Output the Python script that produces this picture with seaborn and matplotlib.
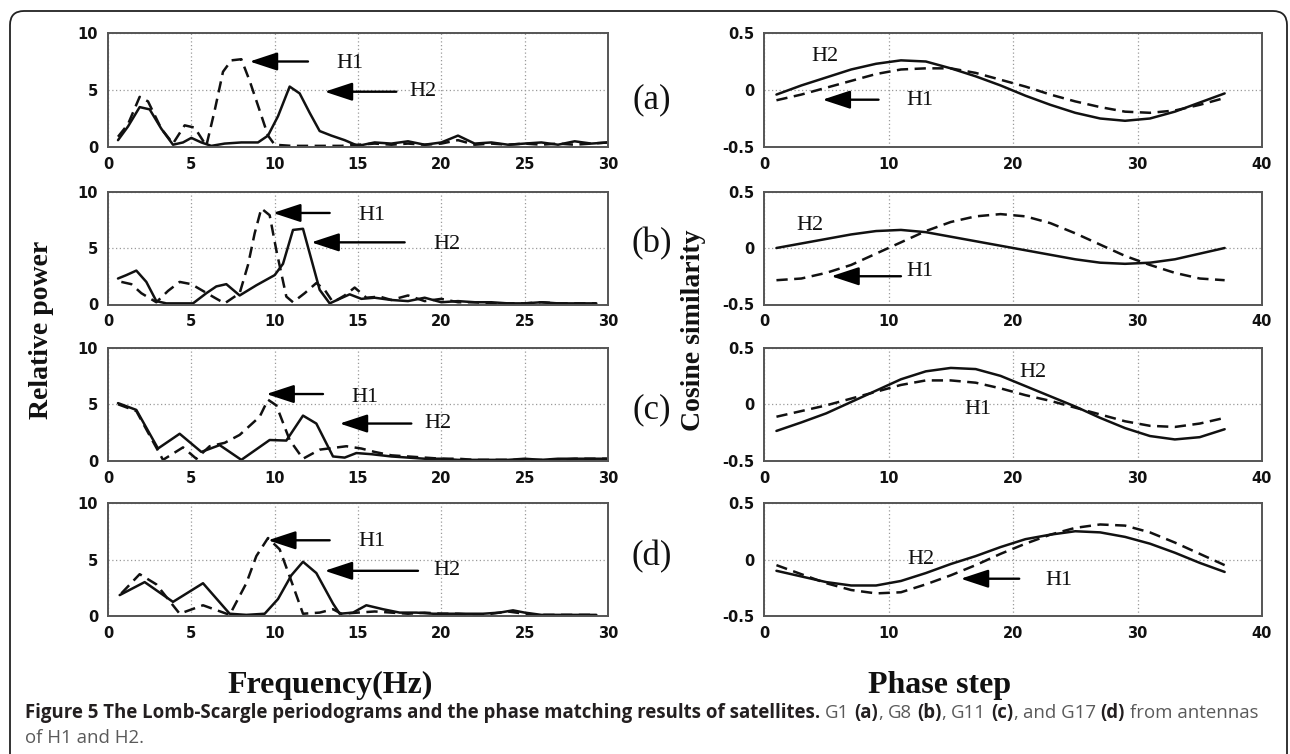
import matplotlib
matplotlib.use("Agg")
import matplotlib.pyplot as plt
import seaborn as sns
from matplotlib.patches import FancyBboxPatch
from matplotlib.transforms import IdentityTransform

sns.set_style("white")
plt.rcParams["font.family"] = ["DejaVu Sans"]

# ---------------- Lomb-Scargle periodograms (left column) ----------------
freq_a_h2 = [0.6, 1.2, 1.9, 2.5, 3.2, 3.9, 4.5, 5.0, 5.6, 6.2, 7.0, 8.0, 9.0, 9.6, 10.2, 10.9, 11.5, 12.1,
             12.7, 13.4, 14.2, 15.0, 16.0, 17.0, 18.0, 19.0, 20.0, 21.0, 22.0, 23.0, 24.0, 25.0, 26.0,
             27.0, 28.0, 29.0, 30.0]
power_a_h2 = [0.6, 1.8, 3.5, 3.3, 1.6, 0.2, 0.4, 0.8, 0.4, 0.1, 0.3, 0.4, 0.4, 1.0, 2.7, 5.3, 4.7, 3.0,
              1.4, 1.0, 0.6, 0.1, 0.4, 0.3, 0.5, 0.2, 0.4, 1.0, 0.3, 0.4, 0.2, 0.3, 0.4, 0.2, 0.5, 0.3, 0.4]
freq_a_h1 = [0.6, 1.2, 1.9, 2.4, 3.2, 3.9, 4.6, 5.2, 5.9, 6.4, 6.9, 7.4, 8.0, 8.5, 9.1, 9.6, 10.0, 11.0,
             12.0, 13.0, 14.0, 15.0, 16.0, 17.0, 18.0, 19.0, 20.0, 21.0, 22.0, 23.0, 24.0, 25.0, 26.0,
             27.0, 28.0, 29.0, 30.0]
power_a_h1 = [0.9, 2.0, 4.4, 4.0, 1.6, 0.3, 1.9, 1.7, 0.1, 3.2, 6.6, 7.6, 7.7, 5.8, 3.2, 1.0, 0.2, 0.1,
              0.1, 0.1, 0.1, 0.2, 0.3, 0.2, 0.3, 0.2, 0.3, 0.6, 0.2, 0.3, 0.2, 0.3, 0.2, 0.3, 0.2, 0.3, 0.4]

freq_b_h2 = [0.6, 1.1, 1.7, 2.3, 2.9, 3.5, 4.2, 5.1, 5.9, 6.5, 7.1, 7.9, 8.9, 10.0, 10.5, 11.1, 11.7,
             12.2, 12.7, 13.3, 13.9, 14.5, 15.2, 16.0, 17.0, 18.0, 19.0, 20.0, 21.0, 22.0, 23.0, 24.0,
             25.0, 26.0, 27.0, 28.0, 29.3]
power_b_h2 = [2.3, 2.6, 3.0, 2.0, 0.3, 0.1, 0.1, 0.1, 1.0, 1.6, 1.8, 0.8, 1.7, 2.6, 3.6, 6.6, 6.7, 4.0,
              1.3, 0.1, 0.5, 0.9, 0.5, 0.6, 0.4, 0.3, 0.6, 0.2, 0.3, 0.2, 0.2, 0.1, 0.1, 0.2, 0.1, 0.1, 0.1]
freq_b_h1 = [0.8, 1.4, 2.0, 2.9, 3.6, 4.3, 5.0, 5.7, 6.4, 7.0, 7.9, 8.4, 8.8, 9.2, 9.7, 10.1, 10.7,
             11.1, 11.8, 12.5, 13.0, 13.5, 14.2, 14.8, 15.5, 16.3, 17.0, 18.0, 19.0, 20.0, 21.0, 22.0,
             23.0, 24.0, 25.0, 26.0, 27.0, 28.0, 29.3]
power_b_h1 = [2.0, 1.8, 1.0, 0.2, 1.2, 2.0, 1.8, 1.2, 0.6, 0.1, 1.0, 3.5, 6.3, 8.5, 7.9, 4.8, 0.7, 0.2,
              1.0, 1.9, 1.3, 0.2, 0.8, 1.5, 0.6, 0.7, 0.4, 0.8, 0.3, 0.5, 0.2, 0.2, 0.1, 0.1, 0.1, 0.2,
              0.1, 0.1, 0.1]

freq_c_h2 = [0.6, 1.7, 3.0, 4.3, 5.6, 6.7, 8.0, 9.7, 10.7, 11.7, 12.5, 13.5, 14.2, 14.9, 15.8, 17.0,
             18.0, 19.0, 20.0, 21.0, 22.0, 23.0, 24.0, 25.0, 26.0, 27.0, 28.0, 29.0, 30.0]
power_c_h2 = [5.1, 4.5, 1.1, 2.4, 0.8, 1.4, 0.1, 1.85, 1.8, 4.0, 3.3, 0.4, 0.3, 0.7, 0.6, 0.4, 0.3,
              0.2, 0.2, 0.1, 0.1, 0.1, 0.1, 0.2, 0.1, 0.2, 0.2, 0.2, 0.2]
freq_c_h1 = [0.6, 1.7, 3.3, 4.5, 5.3, 6.1, 7.0, 7.9, 9.1, 9.6, 10.1, 10.9, 11.7, 12.7, 14.3, 15.2,
             16.0, 17.0, 18.0, 19.0, 20.0, 21.0, 22.0, 23.0, 24.0, 25.0, 26.0, 27.0, 28.0, 29.0, 30.0]
power_c_h1 = [5.0, 4.4, 0.1, 1.2, 0.2, 1.3, 1.6, 2.3, 3.9, 5.4, 4.9, 1.85, 0.2, 1.0, 1.3, 1.1, 0.8,
              0.5, 0.4, 0.3, 0.2, 0.2, 0.1, 0.1, 0.1, 0.1, 0.1, 0.1, 0.2, 0.2, 0.2]

freq_d_h2 = [0.7, 2.2, 3.9, 5.7, 7.3, 8.3, 9.4, 10.2, 11.0, 11.7, 12.5, 13.5, 13.9, 14.7, 15.5, 16.5,
             17.5, 18.5, 19.5, 20.5, 21.5, 22.5, 23.5, 24.3, 25.0, 26.0, 27.0, 28.0, 29.3]
power_d_h2 = [1.85, 3.0, 1.25, 2.9, 0.2, 0.1, 0.2, 1.5, 3.6, 4.8, 3.8, 1.1, 0.2, 0.3, 0.95, 0.6, 0.3,
              0.3, 0.2, 0.2, 0.2, 0.2, 0.3, 0.5, 0.3, 0.1, 0.1, 0.1, 0.1]
freq_d_h1 = [0.8, 1.9, 2.9, 4.3, 5.7, 7.3, 8.3, 8.9, 9.6, 10.3, 10.9, 11.7, 12.7, 13.5, 14.0, 15.0,
             16.0, 17.0, 18.0, 19.0, 20.0, 21.0, 22.0, 23.0, 24.0, 25.0, 26.0, 27.0, 28.0, 29.3]
power_d_h1 = [2.0, 3.7, 2.8, 0.2, 0.95, 0.1, 2.9, 5.3, 6.9, 5.9, 3.5, 0.2, 0.3, 0.6, 0.2, 0.3, 0.4,
              0.3, 0.2, 0.3, 0.2, 0.2, 0.1, 0.2, 0.4, 0.2, 0.1, 0.1, 0.1, 0.1]

# ---------------- Phase matching (right column) ----------------
phase_steps = [1, 3, 5, 7, 9, 11, 13, 15, 17, 19, 21, 23, 25, 27, 29, 31, 33, 35, 37]
cos_a_h2 = [-0.04, 0.04, 0.11, 0.18, 0.23, 0.26, 0.25, 0.19, 0.12, 0.04, -0.05, -0.13, -0.20, -0.25,
            -0.27, -0.25, -0.19, -0.11, -0.03]
cos_a_h1 = [-0.09, -0.04, 0.02, 0.08, 0.14, 0.18, 0.19, 0.19, 0.15, 0.09, 0.03, -0.04, -0.10, -0.15,
            -0.19, -0.20, -0.18, -0.13, -0.07]
cos_b_h2 = [0.00, 0.04, 0.08, 0.12, 0.15, 0.16, 0.14, 0.10, 0.06, 0.02, -0.02, -0.06, -0.10, -0.13,
            -0.14, -0.13, -0.10, -0.05, 0.00]
cos_b_h1 = [-0.285, -0.27, -0.22, -0.15, -0.05, 0.05, 0.15, 0.23, 0.28, 0.30, 0.28, 0.22, 0.13, 0.03,
            -0.07, -0.15, -0.22, -0.27, -0.285]
cos_c_h2 = [-0.235, -0.16, -0.08, 0.02, 0.12, 0.22, 0.29, 0.32, 0.31, 0.25, 0.16, 0.07, -0.02, -0.12,
            -0.21, -0.28, -0.31, -0.29, -0.22]
cos_c_h1 = [-0.11, -0.06, -0.01, 0.05, 0.11, 0.17, 0.21, 0.21, 0.19, 0.14, 0.08, 0.03, -0.03, -0.09,
            -0.15, -0.19, -0.20, -0.17, -0.12]
cos_d_h2 = [-0.10, -0.15, -0.20, -0.23, -0.23, -0.19, -0.12, -0.04, 0.03, 0.11, 0.18, 0.22, 0.25, 0.24,
            0.20, 0.14, 0.06, -0.03, -0.11]
cos_d_h1 = [-0.05, -0.13, -0.21, -0.27, -0.30, -0.29, -0.22, -0.14, -0.05, 0.05, 0.14, 0.22, 0.28, 0.31,
            0.30, 0.24, 0.15, 0.05, -0.05]

panel_tags = ["(a)", "(b)", "(c)", "(d)"]
freq_ticks = [0, 5, 10, 15, 20, 25, 30]
power_ticks = [0, 5, 10]
step_ticks = [0, 10, 20, 30, 40]
cos_ticks = [-0.5, 0, 0.5]
cos_tick_labels = ["-0.5", "0", "0.5"]

left_series = [
    ((freq_a_h2, power_a_h2), (freq_a_h1, power_a_h1)),
    ((freq_b_h2, power_b_h2), (freq_b_h1, power_b_h1)),
    ((freq_c_h2, power_c_h2), (freq_c_h1, power_c_h1)),
    ((freq_d_h2, power_d_h2), (freq_d_h1, power_d_h1)),
]
right_series = [(cos_a_h2, cos_a_h1), (cos_b_h2, cos_b_h1), (cos_c_h2, cos_c_h1), (cos_d_h2, cos_d_h1)]

# annotation layout: (arrow tip, arrow tail, label, label position)
left_notes = [
    [((8.5, 7.5), (12.0, 7.5), "H1", (13.7, 7.3)), ((13.0, 4.85), (17.3, 4.85), "H2", (18.1, 4.85))],
    [((9.9, 8.1), (13.3, 8.1), "H1", (15.0, 7.9)), ((12.2, 5.5), (17.8, 5.5), "H2", (19.5, 5.3))],
    [((9.5, 5.9), (12.9, 5.9), "H1", (14.6, 5.6)), ((13.9, 3.3), (18.2, 3.3), "H2", (19.0, 3.3))],
    [((9.6, 6.7), (13.3, 6.7), "H1", (15.0, 6.6)), ((13.0, 4.0), (18.6, 4.0), "H2", (19.5, 4.0))],
]
right_labels = [
    [("H2", (4.9, 0.29)), ("H1", (12.5, -0.09))],
    [("H2", (3.7, 0.20)), ("H1", (12.5, -0.21))],
    [("H2", (21.6, 0.28)), ("H1", (17.2, -0.05))],
    [("H2", (12.6, 0.0)), ("H1", (23.7, -0.19))],
]
right_arrows = [((4.7, -0.085), (9.2, -0.085)), ((5.4, -0.25), (11.0, -0.25)), None,
                ((15.8, -0.17), (20.5, -0.17))]

W, H = 1290, 754
fig = plt.figure(figsize=(W / 100, H / 100), dpi=100)
fig.patch.set_facecolor("white")


def rect(x0, y0, x1, y1):
    return [x0 / W, 1 - y1 / H, (x1 - x0) / W, (y1 - y0) / H]


rows_px = [(33, 147), (191.5, 304.5), (347.5, 461), (503, 616)]
LINE = "#111111"
DASH = (0, (4.5, 2.6))
serif = "Liberation Serif"
tick_font = dict(family="DejaVu Sans", weight="bold", size=10.5)


def style_axes(ax):
    for s in ax.spines.values():
        s.set_color("#555555")
        s.set_linewidth(1.4)
    ax.grid(True, color="#9a9a9a", linestyle=(0, (1, 2)), linewidth=0.9)
    ax.tick_params(direction="in", length=3, width=1, color="#555555", pad=7)
    for lab in ax.get_xticklabels() + ax.get_yticklabels():
        lab.set_fontfamily(tick_font["family"])
        lab.set_fontweight(tick_font["weight"])
        lab.set_fontsize(tick_font["size"])
        lab.set_color("#111111")


def arrow(ax, tip, tail):
    ax.annotate("", xy=tip, xytext=tail,
                arrowprops=dict(arrowstyle="-|>,head_length=0.85,head_width=0.28", color="black",
                                lw=1.7, shrinkA=0, shrinkB=0, mutation_scale=20))


for i, (top, bottom) in enumerate(rows_px):
    # periodogram
    axl = fig.add_axes(rect(108, top, 608, bottom))
    (fx2, p2), (fx1, p1) = left_series[i]
    sns.lineplot(x=fx2, y=p2, ax=axl, color=LINE, lw=1.8, estimator=None, sort=False)
    sns.lineplot(x=fx1, y=p1, ax=axl, color=LINE, lw=1.8, linestyle=DASH, estimator=None, sort=False)
    axl.set_xlim(0, 30)
    axl.set_ylim(0, 10)
    axl.set_xticks(freq_ticks)
    axl.set_yticks(power_ticks)
    axl.set_xticklabels([str(t) for t in freq_ticks])
    axl.set_yticklabels([str(t) for t in power_ticks])
    style_axes(axl)
    for tip, tail, lab, pos in left_notes[i]:
        arrow(axl, tip, tail)
        axl.text(pos[0], pos[1], lab, family=serif, fontsize=16, ha="left", va="center", color="#111111")

    # phase matching
    axr = fig.add_axes(rect(764, top, 1262, bottom))
    c2, c1 = right_series[i]
    sns.lineplot(x=phase_steps, y=c2, ax=axr, color=LINE, lw=1.8, estimator=None, sort=False)
    sns.lineplot(x=phase_steps, y=c1, ax=axr, color=LINE, lw=1.8, linestyle=DASH, estimator=None, sort=False)
    axr.set_xlim(0, 40)
    axr.set_ylim(-0.5, 0.5)
    axr.set_xticks(step_ticks)
    axr.set_yticks(cos_ticks)
    axr.set_xticklabels([str(t) for t in step_ticks])
    axr.set_yticklabels(cos_tick_labels)
    style_axes(axr)
    for lab, pos in right_labels[i]:
        axr.text(pos[0], pos[1], lab, family=serif, fontsize=16, ha="center", va="center", color="#111111")
    if right_arrows[i] is not None:
        arrow(axr, *right_arrows[i])

    for ax in (axl, axr):
        ax.set_xlabel("")
        ax.set_ylabel("")

    fig.text(652 / W, 1 - [100, 244, 410, 557][i] / H, panel_tags[i], family=serif, fontsize=25,
             ha="center", va="center", color="#111111")

# axis titles
fig.text(42 / W, 1 - 330 / H, "Relative power", family=serif, weight="bold", fontsize=20,
         rotation=90, ha="center", va="center", color="#111111")
fig.text(693 / W, 1 - 330 / H, "Cosine similarity", family=serif, weight="bold", fontsize=20,
         rotation=90, ha="center", va="center", color="#111111")
fig.text(330 / W, 1 - 685 / H, "Frequency(Hz)", family=serif, weight="bold", fontsize=23,
         ha="center", va="center", color="#111111")
fig.text(940 / W, 1 - 685 / H, "Phase step", family=serif, weight="bold", fontsize=23,
         ha="center", va="center", color="#111111")

# rounded frame around the figure
frame = FancyBboxPatch((10, -30), 1277, 773, boxstyle="round,pad=0,rounding_size=14",
                       transform=IdentityTransform(), facecolor="none", edgecolor="#222222", lw=1.3)
fig.patches.append(frame)

# caption set as a run of bold / regular pieces
renderer = fig.canvas.get_renderer()
CAP_FONT = "Open Sans"
CAP_SIZE = 13.4
BOLD_C = "#231f20"
REG_C = "#5a5a5a"


def text_width(s, weight):
    t = fig.text(0, 0, s, family=CAP_FONT, fontsize=CAP_SIZE, fontweight=weight)
    w = t.get_window_extent(renderer).width
    t.remove()
    return w


def advance(s, weight):
    # pen advance of a run, measured against a following reference glyph
    return text_width(s + "n", weight) - text_width("n", weight)


space_w = advance(" ", "normal")


def caption_line(pieces, x_px, base_px):
    x = x_px
    for txt, weight, gap in pieces:
        if gap:
            x += space_w
        color = BOLD_C if weight == "bold" else REG_C
        fig.text(x / W, 1 - base_px / H, txt, family=CAP_FONT, fontsize=CAP_SIZE,
                 fontweight=weight, color=color, ha="left", va="baseline")
        x += advance(txt, weight)


caption_line([
    ("Figure 5 The Lomb-Scargle periodograms and the phase matching results of satellites.", "bold", False),
    ("G1", "normal", True), ("(a)", "bold", True), (",", "normal", False),
    ("G8", "normal", True), ("(b)", "bold", True), (",", "normal", False),
    ("G11", "normal", True), ("(c)", "bold", True), (",", "normal", False),
    ("and G17", "normal", True), ("(d)", "bold", True), ("from antennas", "normal", True),
], 25, 718)
caption_line([("of H1 and H2.", "normal", False)], 25, 743)

fig.savefig("out.png", dpi=100, facecolor="white")
